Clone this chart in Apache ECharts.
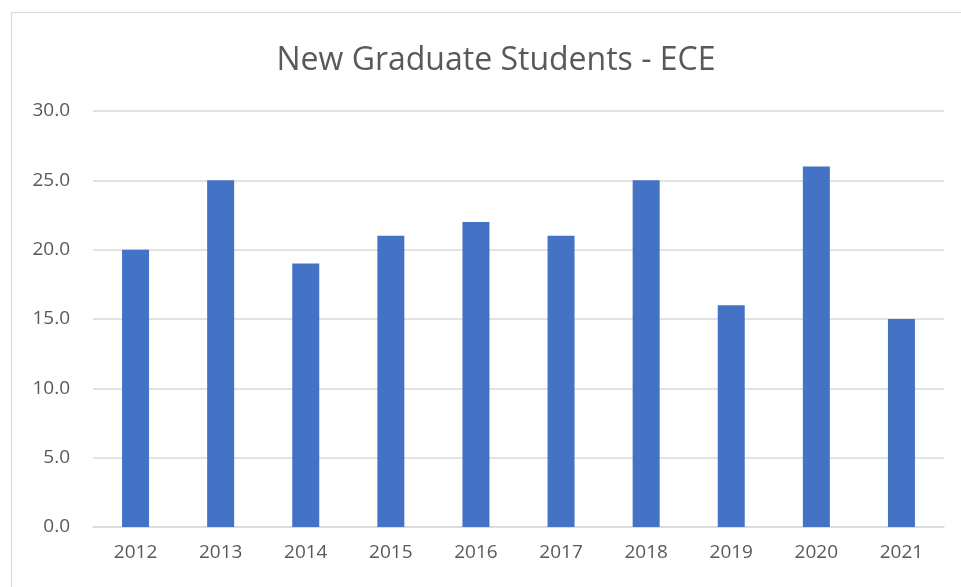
<!DOCTYPE html>
<html>
<head>
<meta charset="utf-8">
<script src="https://cdn.jsdelivr.net/npm/echarts@6/dist/echarts.min.js"></script>
<style>
  html, body { margin: 0; padding: 0; background: #fff; overflow: hidden; }
  #frame { position: absolute; left: 11px; top: 12px; width: 1000px; height: 650px; border: 1.5px solid #d9d9d9; }
  #main { position: absolute; left: 0; top: 0; width: 961px; height: 587px; }
</style>
</head>
<body>
<div id="frame"></div>
<div id="main"></div>
<script>
const years = ['2012', '2013', '2014', '2015', '2016', '2017', '2018', '2019', '2020', '2021']
const students = [20, 25, 19, 21, 22, 21, 25, 16, 26, 15]

const myChart = echarts.init(document.getElementById('main'))
const option = {
  title: {
    text: 'New Graduate Students - ECE',
    left: 491,
    textAlign: 'center',
    top: 40,
    textStyle: { color: '#595959', fontSize: 32, fontWeight: 'normal', fontFamily: 'Open Sans' }
  },
  grid: { left: 93, right: 17, top: 111, bottom: 60 },
  xAxis: {
    type: 'category',
    data: years,
    axisLine: { lineStyle: { color: '#d9d9d9', width: 1.5 } },
    axisTick: { show: false },
    axisLabel: { color: '#595959', fontSize: 19, margin: 16, fontFamily: 'Open Sans' }
  },
  yAxis: {
    type: 'value',
    min: 0,
    max: 30,
    interval: 5,
    axisLine: { show: false },
    axisTick: { show: false },
    splitLine: { lineStyle: { color: '#d9d9d9', width: 1.5 } },
    axisLabel: { color: '#595959', fontSize: 19, margin: 23, fontFamily: 'Open Sans', formatter: v => v.toFixed(1) }
  },
  series: [{
    type: 'bar',
    data: students,
    barWidth: 27,
    itemStyle: { color: '#4472c4' }
  }]
}
myChart.setOption(option)
</script>
</body>
</html>
